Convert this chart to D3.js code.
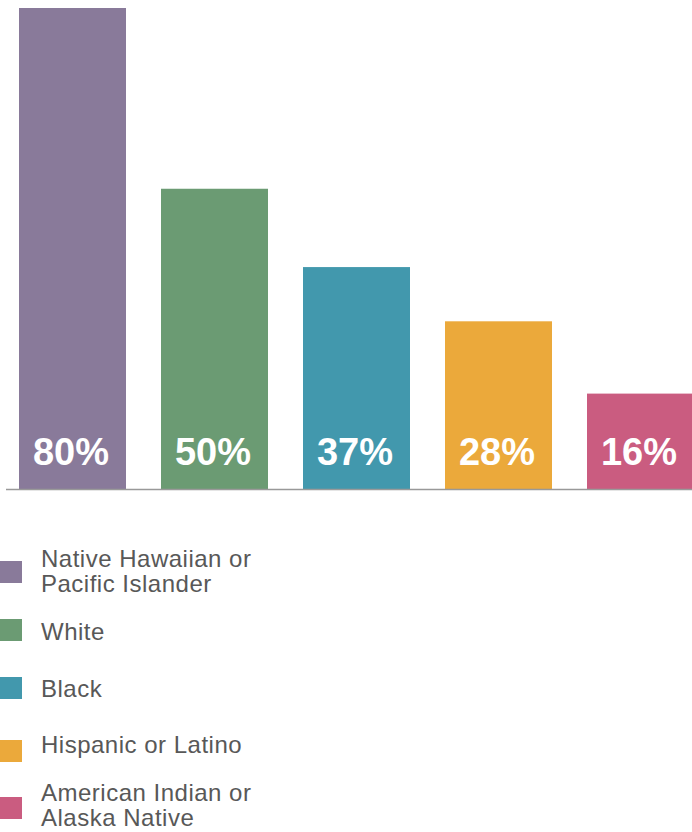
<!DOCTYPE html>
<html>
<head>
<meta charset="utf-8">
<script src="https://cdn.jsdelivr.net/npm/d3@7"></script>
<style>
  html, body { margin: 0; padding: 0; background: #fff; }
  svg { display: block; }
</style>
</head>
<body>
<svg id="chart" width="692" height="832"></svg>
<script>
const categories = ["Native Hawaiian or Pacific Islander", "White", "Black", "Hispanic or Latino", "American Indian or Alaska Native"];
const values = [80, 50, 37, 28, 16];
const valueLabels = ["80%", "50%", "37%", "28%", "16%"];
const legendLines = [["Native Hawaiian or", "Pacific Islander"], ["White"], ["Black"], ["Hispanic or Latino"], ["American Indian or", "Alaska Native"]];
const colors = ["#897a9a", "#6b9b73", "#4298ad", "#eba93b", "#ca5c80"];

const svg = d3.select("#chart");
const font = "'Liberation Sans', Arial, Helvetica, sans-serif";

const x = d3.scaleBand().domain(categories).range([19, 694]).paddingInner(35 / 142).paddingOuter(0);
const y = d3.scaleLinear().domain([0, 80]).range([490, 8]);

svg.selectAll("rect.bar").data(categories).join("rect")
  .attr("class", "bar")
  .attr("x", d => x(d))
  .attr("y", (d, i) => y(values[i]))
  .attr("width", x.bandwidth())
  .attr("height", (d, i) => y(0) - y(values[i]))
  .attr("fill", (d, i) => colors[i]);

svg.selectAll("text.val").data(categories).join("text")
  .attr("class", "val")
  .attr("x", d => x(d) + x.bandwidth() / 2 - 1.5)
  .attr("y", y(0) - 25)
  .attr("text-anchor", "middle")
  .attr("font-family", font)
  .attr("font-weight", "bold")
  .attr("font-size", 38)
  .attr("fill", "#fff")
  .text((d, i) => valueLabels[i]);

svg.append("line")
  .attr("x1", 6).attr("x2", 692)
  .attr("y1", y(0) - 0.5).attr("y2", y(0) - 0.5)
  .attr("stroke", "#999").attr("stroke-width", 1.5);

// Legend (layout positions)
const legendTop = [561, 619, 677, 740, 797];
const legendBaseline = [[567, 592], [640], [697], [753], [801, 826]];
const lg = svg.selectAll("g.leg").data(categories).join("g")
  .attr("class", "leg");
lg.append("rect")
  .attr("x", 0).attr("y", (d, i) => legendTop[i]).attr("width", 22).attr("height", 22)
  .attr("fill", (d, i) => colors[i]);
lg.each(function (d, i) {
  d3.select(this).selectAll("text").data(legendLines[i]).join("text")
    .attr("x", 41)
    .attr("y", (t, j) => legendBaseline[i][j])
    .attr("font-family", font)
    .attr("font-size", 24)
    .attr("letter-spacing", 0.5)
    .attr("fill", "#585858")
    .text(t => t);
});
</script>
</body>
</html>
